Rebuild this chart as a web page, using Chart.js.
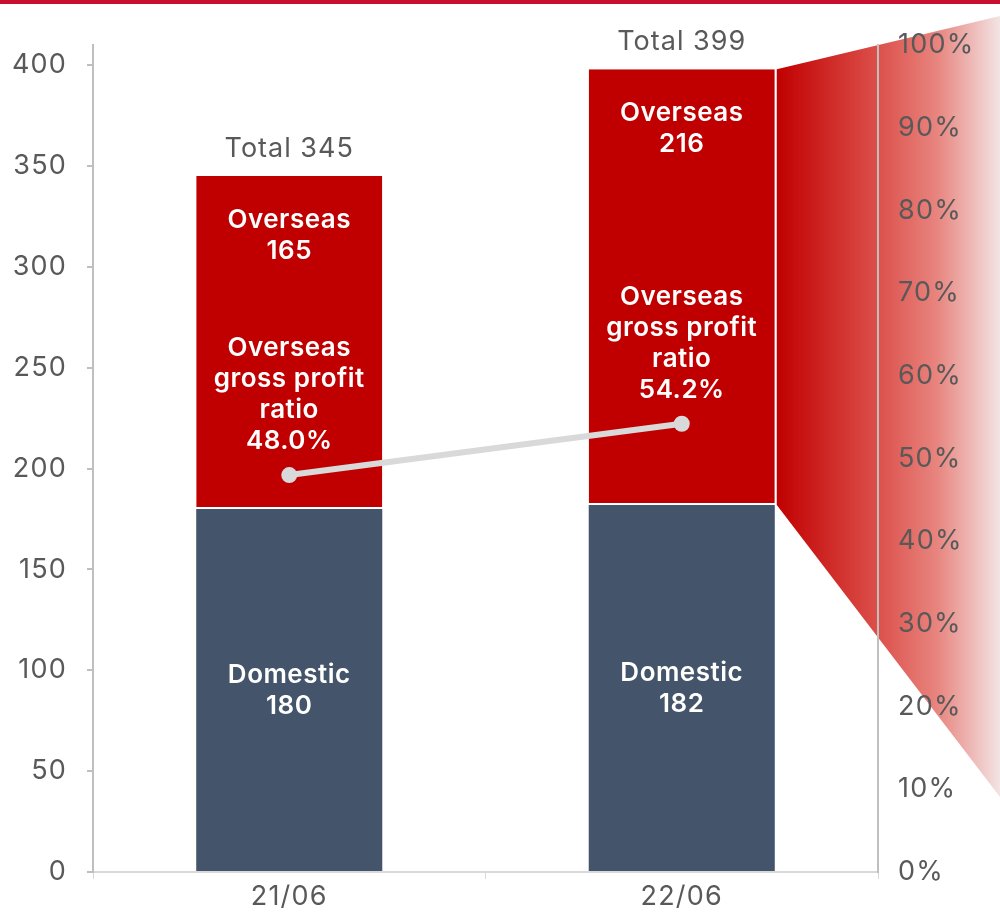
<!DOCTYPE html>
<html>
<head>
<meta charset="utf-8">
<script src="https://cdn.jsdelivr.net/npm/chart.js@4"></script>
<style>
  body { margin: 0; background: #fff; }
  #wrap { width: 1000px; height: 912px; position: relative; }
</style>
</head>
<body>
<div id="wrap"><canvas id="myChart"></canvas></div>
<script>
var categories = ['21/06', '22/06'];
var domestic = [180, 182];
var overseas = [165, 216];
var totals = [345, 399];
var profitRatio = [48.0, 54.2];

var FONT = "Inter, 'Noto Sans', sans-serif";
var GREY_TEXT = '#595959';

// red band at the top, gradient wedge and texts in the bars
var decorations = {
    id: 'decorations',
    beforeDraw: function (chart) {
        var c = chart.ctx;
        var w = chart.width;
        c.letterSpacing = '1.2px';
        c.save();
        c.fillStyle = '#c8102e';
        c.fillRect(0, 0, w, 4);

        var bar = chart.getDatasetMeta(1).data[1];
        var x0 = bar.x + bar.width / 2 + 2;
        var g = c.createLinearGradient(x0, 0, w, 0);
        g.addColorStop(0, '#c00000');
        g.addColorStop(0.45, '#dc4f4a');
        g.addColorStop(0.72, '#e8857f');
        g.addColorStop(1, '#f2e4e4');
        c.fillStyle = g;
        c.beginPath();
        c.moveTo(x0, bar.y);
        c.lineTo(w, 16);
        c.lineTo(w, 797);
        c.lineTo(x0, bar.base);
        c.closePath();
        c.fill();
        c.restore();
    },
    afterDatasetsDraw: function (chart) {
        var c = chart.ctx;
        var dom = chart.getDatasetMeta(0).data;
        var ovs = chart.getDatasetMeta(1).data;
        var pts = chart.getDatasetMeta(2).data;
        c.save();
        c.textAlign = 'center';
        c.textBaseline = 'middle';
        for (var i = 0; i < categories.length; i++) {
            var x = dom[i].x;
            c.letterSpacing = '1px';
            c.fillStyle = GREY_TEXT;
            c.font = '27px ' + FONT;
            c.fillText('Total ' + totals[i], x, ovs[i].y - 27);

            c.letterSpacing = '0.5px';
            c.fillStyle = '#ffffff';
            c.font = '600 26px ' + FONT;
            var my = (dom[i].y + dom[i].base) / 2;
            c.fillText('Domestic', x, my - 15);
            c.fillText(String(domestic[i]), x, my + 16);

            c.fillText('Overseas', x, ovs[i].y + 44);
            c.fillText(String(overseas[i]), x, ovs[i].y + 75);

            var py = pts[i].y - 34;
            var lines = ['Overseas', 'gross profit', 'ratio', profitRatio[i].toFixed(1) + '%'];
            for (var k = 0; k < lines.length; k++) {
                c.fillText(lines[k], x, py - (lines.length - 1 - k) * 31);
            }
        }
        c.restore();
    }
};

var ctx = document.getElementById('myChart').getContext('2d');
var myChart = new Chart(ctx, {
    type: 'bar',
    data: {
        labels: categories,
        datasets: [{
            label: 'Domestic',
            data: domestic,
            backgroundColor: '#44546a',
            borderColor: '#ffffff',
            borderWidth: 0,
            barPercentage: 0.474,
            categoryPercentage: 1,
            yAxisID: 'y',
            order: 2
        }, {
            label: 'Overseas',
            data: overseas,
            backgroundColor: '#c00000',
            borderColor: '#ffffff',
            borderWidth: { top: 0, bottom: 2, left: 0, right: 0 },
            borderSkipped: false,
            barPercentage: 0.474,
            categoryPercentage: 1,
            yAxisID: 'y',
            order: 2
        }, {
            type: 'line',
            label: 'Overseas gross profit ratio',
            data: profitRatio,
            borderColor: '#d9d9d9',
            backgroundColor: '#d9d9d9',
            borderWidth: 6,
            pointRadius: 8,
            pointBackgroundColor: '#d9d9d9',
            pointBorderWidth: 0,
            yAxisID: 'y1',
            order: 1
        }]
    },
    options: {
        responsive: true,
        maintainAspectRatio: false,
        animation: false,
        devicePixelRatio: 1,
        layout: { padding: { top: 45, left: 0, right: 0, bottom: 0 } },
        plugins: {
            legend: { display: false },
            tooltip: { enabled: false }
        },
        scales: {
            x: {
                stacked: true,
                offset: true,
                grid: { display: true, offset: true, drawOnChartArea: false, tickLength: 7, color: '#d9d9d9' },
                border: { color: '#d9d9d9', width: 2 },
                ticks: { color: GREY_TEXT, font: { family: FONT, size: 27 }, padding: 2 },
                afterFit: function (s) { s.height = 40; }
            },
            y: {
                stacked: true,
                position: 'left',
                min: 0,
                max: 410,
                grid: { drawOnChartArea: false, tickLength: 6, color: '#bfbfbf', lineWidth: 2 },
                border: { color: '#bfbfbf', width: 2 },
                ticks: { stepSize: 50, includeBounds: false, color: GREY_TEXT, padding: 20, font: { family: FONT, size: 27 } },
                afterFit: function (s) { s.width = 93; }
            },
            y1: {
                position: 'right',
                min: 0,
                max: 100,
                grid: { drawOnChartArea: false, drawTicks: false, color: '#bfbfbf' },
                border: { color: '#bfbfbf', width: 2 },
                ticks: {
                    stepSize: 10, color: GREY_TEXT, padding: 20, font: { family: FONT, size: 27 },
                    callback: function (v) { return v + '%'; }
                },
                afterFit: function (s) { s.width = 122; }
            }
        }
    },
    plugins: [decorations]
});
</script>
</body>
</html>
